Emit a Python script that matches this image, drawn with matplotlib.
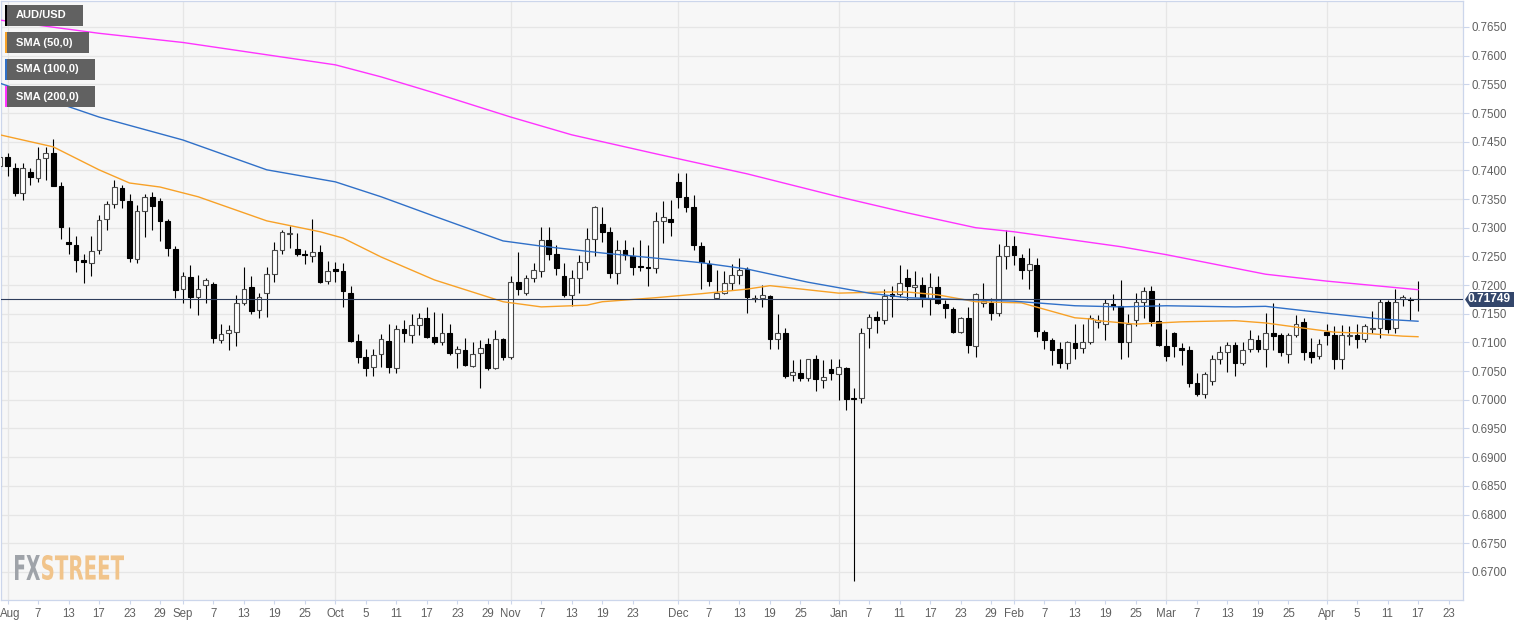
import matplotlib

matplotlib.use("Agg")
import matplotlib.pyplot as plt
import numpy as np
import pandas as pd
from matplotlib.font_manager import FontProperties
from matplotlib.patches import PathPatch, Polygon, Rectangle
from matplotlib.textpath import TextPath
from matplotlib.transforms import Affine2D, IdentityTransform, ScaledTranslation


# Osnovna podesavanja slike (pikseli, dpi=100).
FIG_W, FIG_H = 1534, 626
PLOT_RIGHT_PX = 1463
PLOT_TOP_PX = 1
PLOT_BOTTOM_PX = 600
Y_MIN, Y_MAX = 0.66510, 0.76953

FONT = "Liberation Sans"
BG_COLOR = "#f7f7f7"
GRID_COLOR = "#e6e6e6"
SPINE_COLOR = "#ccd6eb"
LABEL_COLOR = "#606060"
SMA50_COLOR = "#f7a127"
SMA100_COLOR = "#3070c8"
SMA200_COLOR = "#ff33ff"
PRICE_LINE_COLOR = "#2e3d5c"

START_DATE = "2018-07-31"

# Dnevne svece AUD/USD (31. jul 2018 - 17. apr 2019), ocitano sa grafika.
OPEN = [
    0.7407, 0.7424, 0.7404, 0.7360, 0.7398, 0.7386, 0.7421, 0.7431, 0.7372, 0.7276,
    0.7270, 0.7244, 0.7239, 0.7261, 0.7316, 0.7341, 0.7370, 0.7347, 0.7245, 0.7330,
    0.7353, 0.7346, 0.7311, 0.7263, 0.7193, 0.7214, 0.7180, 0.7201, 0.7202, 0.7104,
    0.7116, 0.7119, 0.7168, 0.7197, 0.7157, 0.7186, 0.7219, 0.7262, 0.7289, 0.7263,
    0.7253, 0.7251, 0.7258, 0.7208, 0.7228, 0.7225, 0.7187, 0.7103, 0.7074, 0.7057,
    0.7080, 0.7103, 0.7055, 0.7123, 0.7113, 0.7131, 0.7142, 0.7110, 0.7100, 0.7116,
    0.7081, 0.7087, 0.7059, 0.7081, 0.7097, 0.7055, 0.7106, 0.7074, 0.7205, 0.7187,
    0.7212, 0.7225, 0.7279, 0.7254, 0.7215, 0.7183, 0.7212, 0.7241, 0.7280, 0.7306,
    0.7292, 0.7221, 0.7261, 0.7251, 0.7233, 0.7231, 0.7229, 0.7312, 0.7316, 0.7379,
    0.7353, 0.7336, 0.7268, 0.7237, 0.7177, 0.7187, 0.7204, 0.7218, 0.7228, 0.7175,
    0.7177, 0.7181, 0.7106, 0.7117, 0.7043, 0.7046, 0.7038, 0.7071, 0.7035, 0.7053,
    0.7045, 0.7055, 0.7003, 0.7003, 0.7125, 0.7145, 0.7139, 0.7184, 0.7185, 0.7212,
    0.7197, 0.7200, 0.7175, 0.7196, 0.7167, 0.7159, 0.7119, 0.7143, 0.7094, 0.7168,
    0.7168, 0.7151, 0.7250, 0.7268, 0.7248, 0.7226, 0.7235, 0.7119, 0.7104, 0.7088,
    0.7065, 0.7099, 0.7090, 0.7100, 0.7135, 0.7133, 0.7167, 0.7164, 0.7100, 0.7139,
    0.7171, 0.7190, 0.7138, 0.7094, 0.7116, 0.7091, 0.7086, 0.7029, 0.7010, 0.7032,
    0.7071, 0.7083, 0.7095, 0.7064, 0.7088, 0.7104, 0.7088, 0.7117, 0.7113, 0.7080,
    0.7113, 0.7135, 0.7084, 0.7077, 0.7119, 0.7113, 0.7071, 0.7112, 0.7113, 0.7106,
    0.7124, 0.7125, 0.7171, 0.7126, 0.7176, 0.7176, 0.7175,
]
HIGH = [
    0.7441, 0.7431, 0.7412, 0.7412, 0.7405, 0.7440, 0.7440, 0.7454, 0.7380, 0.7301,
    0.7285, 0.7255, 0.7286, 0.7322, 0.7346, 0.7383, 0.7375, 0.7359, 0.7340, 0.7358,
    0.7363, 0.7351, 0.7315, 0.7268, 0.7223, 0.7235, 0.7218, 0.7212, 0.7206, 0.7133,
    0.7131, 0.7183, 0.7232, 0.7216, 0.7186, 0.7232, 0.7276, 0.7296, 0.7303, 0.7291,
    0.7261, 0.7316, 0.7270, 0.7242, 0.7241, 0.7238, 0.7198, 0.7115, 0.7089, 0.7088,
    0.7115, 0.7132, 0.7131, 0.7140, 0.7150, 0.7151, 0.7161, 0.7153, 0.7151, 0.7133,
    0.7093, 0.7107, 0.7100, 0.7104, 0.7107, 0.7122, 0.7107, 0.7215, 0.7258, 0.7218,
    0.7238, 0.7301, 0.7302, 0.7270, 0.7238, 0.7226, 0.7253, 0.7299, 0.7338, 0.7337,
    0.7302, 0.7279, 0.7279, 0.7266, 0.7278, 0.7270, 0.7328, 0.7346, 0.7348, 0.7395,
    0.7395, 0.7357, 0.7276, 0.7244, 0.7226, 0.7224, 0.7237, 0.7247, 0.7231, 0.7183,
    0.7200, 0.7183, 0.7150, 0.7125, 0.7070, 0.7071, 0.7072, 0.7079, 0.7070, 0.7071,
    0.7072, 0.7058, 0.7020, 0.7125, 0.7150, 0.7154, 0.7194, 0.7199, 0.7235, 0.7228,
    0.7225, 0.7214, 0.7221, 0.7215, 0.7174, 0.7162, 0.7145, 0.7162, 0.7186, 0.7204,
    0.7177, 0.7272, 0.7296, 0.7285, 0.7255, 0.7265, 0.7247, 0.7122, 0.7108, 0.7101,
    0.7103, 0.7133, 0.7133, 0.7148, 0.7148, 0.7175, 0.7184, 0.7209, 0.7150, 0.7186,
    0.7196, 0.7199, 0.7168, 0.7123, 0.7119, 0.7099, 0.7093, 0.7046, 0.7049, 0.7078,
    0.7093, 0.7100, 0.7100, 0.7100, 0.7121, 0.7113, 0.7151, 0.7168, 0.7117, 0.7117,
    0.7148, 0.7142, 0.7107, 0.7106, 0.7133, 0.7129, 0.7131, 0.7128, 0.7133, 0.7133,
    0.7154, 0.7176, 0.7174, 0.7194, 0.7183, 0.7180, 0.7208,
]
LOW = [
    0.7404, 0.7390, 0.7355, 0.7348, 0.7375, 0.7380, 0.7383, 0.7372, 0.7280, 0.7255,
    0.7223, 0.7203, 0.7216, 0.7254, 0.7296, 0.7334, 0.7334, 0.7240, 0.7238, 0.7284,
    0.7296, 0.7277, 0.7251, 0.7177, 0.7168, 0.7160, 0.7147, 0.7168, 0.7099, 0.7099,
    0.7087, 0.7094, 0.7165, 0.7149, 0.7142, 0.7145, 0.7206, 0.7254, 0.7264, 0.7251,
    0.7237, 0.7241, 0.7204, 0.7202, 0.7206, 0.7162, 0.7101, 0.7065, 0.7042, 0.7042,
    0.7058, 0.7046, 0.7047, 0.7101, 0.7099, 0.7113, 0.7107, 0.7097, 0.7096, 0.7078,
    0.7055, 0.7059, 0.7057, 0.7020, 0.7052, 0.7053, 0.7070, 0.7071, 0.7183, 0.7183,
    0.7206, 0.7214, 0.7244, 0.7218, 0.7180, 0.7164, 0.7187, 0.7226, 0.7250, 0.7276,
    0.7212, 0.7202, 0.7244, 0.7218, 0.7224, 0.7199, 0.7221, 0.7273, 0.7285, 0.7334,
    0.7328, 0.7261, 0.7194, 0.7199, 0.7175, 0.7185, 0.7192, 0.7202, 0.7151, 0.7171,
    0.7162, 0.7088, 0.7088, 0.7038, 0.7032, 0.7032, 0.7032, 0.7016, 0.7020, 0.7035,
    0.6999, 0.6982, 0.6684, 0.6994, 0.7090, 0.7117, 0.7132, 0.7145, 0.7180, 0.7174,
    0.7180, 0.7162, 0.7148, 0.7167, 0.7142, 0.7116, 0.7116, 0.7082, 0.7075, 0.7162,
    0.7139, 0.7146, 0.7228, 0.7235, 0.7210, 0.7194, 0.7110, 0.7088, 0.7061, 0.7055,
    0.7053, 0.7072, 0.7081, 0.7097, 0.7125, 0.7104, 0.7157, 0.7071, 0.7075, 0.7129,
    0.7142, 0.7129, 0.7093, 0.7068, 0.7075, 0.7061, 0.7023, 0.7006, 0.7003, 0.7026,
    0.7062, 0.7049, 0.7042, 0.7061, 0.7084, 0.7084, 0.7058, 0.7087, 0.7077, 0.7065,
    0.7110, 0.7070, 0.7064, 0.7072, 0.7096, 0.7053, 0.7053, 0.7096, 0.7090, 0.7100,
    0.7116, 0.7107, 0.7116, 0.7116, 0.7164, 0.7140, 0.7154,
]
CLOSE = [
    0.7424, 0.7407, 0.7361, 0.7405, 0.7388, 0.7420, 0.7431, 0.7373, 0.7302, 0.7271,
    0.7244, 0.7240, 0.7260, 0.7314, 0.7341, 0.7371, 0.7348, 0.7247, 0.7330, 0.7353,
    0.7338, 0.7312, 0.7264, 0.7192, 0.7215, 0.7180, 0.7193, 0.7209, 0.7107, 0.7114,
    0.7122, 0.7169, 0.7194, 0.7154, 0.7180, 0.7219, 0.7262, 0.7292, 0.7290, 0.7254,
    0.7252, 0.7257, 0.7206, 0.7225, 0.7225, 0.7189, 0.7103, 0.7075, 0.7055, 0.7079,
    0.7106, 0.7057, 0.7124, 0.7116, 0.7131, 0.7142, 0.7110, 0.7101, 0.7117, 0.7082,
    0.7088, 0.7061, 0.7080, 0.7090, 0.7055, 0.7106, 0.7074, 0.7206, 0.7194, 0.7212,
    0.7226, 0.7279, 0.7255, 0.7229, 0.7183, 0.7212, 0.7240, 0.7280, 0.7336, 0.7293,
    0.7221, 0.7261, 0.7253, 0.7231, 0.7231, 0.7230, 0.7311, 0.7318, 0.7310, 0.7354,
    0.7337, 0.7270, 0.7240, 0.7208, 0.7187, 0.7204, 0.7218, 0.7226, 0.7180, 0.7177,
    0.7182, 0.7106, 0.7117, 0.7042, 0.7048, 0.7038, 0.7071, 0.7036, 0.7039, 0.7046,
    0.7057, 0.7001, 0.7001, 0.7116, 0.7145, 0.7140, 0.7181, 0.7181, 0.7204, 0.7199,
    0.7201, 0.7177, 0.7197, 0.7169, 0.7160, 0.7119, 0.7142, 0.7095, 0.7184, 0.7172,
    0.7152, 0.7250, 0.7269, 0.7253, 0.7226, 0.7236, 0.7120, 0.7104, 0.7086, 0.7065,
    0.7100, 0.7090, 0.7100, 0.7142, 0.7139, 0.7168, 0.7164, 0.7101, 0.7132, 0.7171,
    0.7189, 0.7138, 0.7095, 0.7077, 0.7093, 0.7087, 0.7030, 0.7011, 0.7045, 0.7072,
    0.7084, 0.7095, 0.7064, 0.7086, 0.7106, 0.7088, 0.7116, 0.7112, 0.7083, 0.7113,
    0.7133, 0.7084, 0.7074, 0.7097, 0.7113, 0.7072, 0.7113, 0.7113, 0.7106, 0.7129,
    0.7125, 0.7171, 0.7123, 0.7171, 0.7179, 0.7174, 0.71749,
]
LAST_PRICE = 0.71749

# Pokretni proseci: indeks svece i ocitana vrednost linije.
SMA50_IDX = [0, 7, 13, 17, 21, 26, 35, 42, 45, 50, 57, 66, 71, 77, 79, 86, 92, 98,
             101, 110, 116, 119, 123, 128, 134, 141, 143, 144, 149, 155, 162, 166,
             171, 175, 179, 184, 186]
SMA50_VAL = [0.7462, 0.7441, 0.7401, 0.7378, 0.7371, 0.7354, 0.7312, 0.7293, 0.7282,
             0.7249, 0.7209, 0.7171, 0.7162, 0.7165, 0.7171, 0.7178, 0.7185, 0.7193,
             0.7199, 0.7186, 0.7188, 0.7188, 0.7183, 0.7171, 0.7169, 0.7143, 0.7141,
             0.7138, 0.7132, 0.7136, 0.7138, 0.7134, 0.7125, 0.7118, 0.7116, 0.7111,
             0.7110]
SMA100_IDX = [0, 13, 24, 35, 44, 50, 57, 66, 71, 79, 86, 92, 98, 106, 114, 119, 128,
              133, 141, 147, 153, 162, 166, 174, 181, 186]
SMA100_VAL = [0.7552, 0.7493, 0.7453, 0.7401, 0.7380, 0.7354, 0.7320, 0.7277, 0.7268,
              0.7256, 0.7247, 0.7239, 0.7228, 0.7205, 0.7186, 0.7178, 0.7174, 0.7172,
              0.7164, 0.7162, 0.7164, 0.7162, 0.7163, 0.7151, 0.7141, 0.7137]
SMA200_IDX = [0, 13, 24, 44, 50, 57, 67, 75, 86, 98, 110, 119, 128, 133, 147, 153,
              166, 174, 186]
SMA200_VAL = [0.7662, 0.7639, 0.7623, 0.7584, 0.7563, 0.7535, 0.7493, 0.7462, 0.7429,
              0.7394, 0.7354, 0.7326, 0.7300, 0.7293, 0.7267, 0.7253, 0.7219, 0.7207,
              0.7192]

# Oznake na x osi (datum -> tekst).
TICK_DATES = [
    "2018-08-01", "2018-08-07", "2018-08-13", "2018-08-17", "2018-08-23", "2018-08-29",
    "2018-09-03", "2018-09-07", "2018-09-13", "2018-09-19", "2018-09-25",
    "2018-10-01", "2018-10-05", "2018-10-11", "2018-10-17", "2018-10-23", "2018-10-29",
    "2018-11-01", "2018-11-07", "2018-11-13", "2018-11-19", "2018-11-23",
    "2018-12-03", "2018-12-07", "2018-12-13", "2018-12-19", "2018-12-25",
    "2019-01-01", "2019-01-07", "2019-01-11", "2019-01-17", "2019-01-23", "2019-01-29",
    "2019-02-01", "2019-02-07", "2019-02-13", "2019-02-19", "2019-02-25",
    "2019-03-01", "2019-03-07", "2019-03-13", "2019-03-19", "2019-03-25",
    "2019-04-01", "2019-04-05", "2019-04-11", "2019-04-17", "2019-04-23",
]
TICK_LABELS = [
    "Aug", "7", "13", "17", "23", "29",
    "Sep", "7", "13", "19", "25",
    "Oct", "5", "11", "17", "23", "29",
    "Nov", "7", "13", "19", "23",
    "Dec", "7", "13", "19", "25",
    "Jan", "7", "11", "17", "23", "29",
    "Feb", "7", "13", "19", "25",
    "Mar", "7", "13", "19", "25",
    "Apr", "5", "11", "17", "23",
]
MONTH_STARTS = ["2018-08-01", "2018-09-03", "2018-10-01", "2018-11-01", "2018-12-03",
                "2019-01-01", "2019-02-01", "2019-03-01", "2019-04-01"]

LEGEND_ITEMS = [
    ("AUD/USD", "black", 78),
    ("SMA (50,0)", SMA50_COLOR, 84),
    ("SMA (100,0)", SMA100_COLOR, 90),
    ("SMA (200,0)", SMA200_COLOR, 90),
]


def px(y_from_top):
    """Pretvara y koordinatu sa slike (od vrha) u display koordinatu."""
    return FIG_H - y_from_top


def date_positions(dates):
    """Vraca poziciju (indeks radnog dana) za svaki datum."""
    calendar = pd.bdate_range(START_DATE, "2019-04-30")
    return [calendar.get_loc(pd.Timestamp(d)) for d in dates]


def draw_candles(ax):
    o, h, l, c = (np.array(v) for v in (OPEN, HIGH, LOW, CLOSE))
    x = np.arange(len(c))
    up = c >= o
    bottom = np.minimum(o, c)
    height = np.maximum(np.abs(c - o), 0.00016)

    ax.vlines(x, l, h, color="black", linewidth=0.8, zorder=2)
    ax.bar(x[up], height[up], bottom=bottom[up], width=0.62, color="white",
           edgecolor="#4a4a4a", linewidth=0.8, zorder=3)
    ax.bar(x[~up], height[~up], bottom=bottom[~up], width=0.62, color="black",
           edgecolor="black", linewidth=0.8, zorder=3)


def draw_legend(fig):
    for k, (label, color, width) in enumerate(LEGEND_ITEMS):
        top = 5 + 27 * k
        fig.add_artist(Rectangle((5, px(top + 21)), width, 21, transform=IdentityTransform(),
                                 facecolor="#616161", edgecolor="none"))
        fig.add_artist(Rectangle((5, px(top + 21)), 2, 21, transform=IdentityTransform(),
                                 facecolor=color, edgecolor="none"))
        fig.text(16, px(top + 10.5), label, transform=IdentityTransform(), color="white",
                 fontsize=8, fontweight="bold", family=FONT, va="center", ha="left")


def draw_watermark(fig):
    prop = FontProperties(family="DejaVu Sans", weight="bold")
    parts = [("FX", "#9fa3a9", 15, 25), ("STREET", "#f1c48b", 42, 82)]
    for text, color, left, width in parts:
        path = TextPath((0, 0), text, size=100, prop=prop)
        bb = path.get_extents()
        tr = (Affine2D().translate(-bb.x0, -bb.y0)
              .scale(width / bb.width, 25 / bb.height).translate(left, px(580)))
        fig.add_artist(PathPatch(tr.transform_path(path), transform=IdentityTransform(),
                                 facecolor=color, edgecolor="none"))


def draw_price_label(fig, ax):
    y = ax.transData.transform((0, LAST_PRICE))[1]
    x0 = PLOT_RIGHT_PX + 2
    shape = [(x0, y), (x0 + 5, y + 7.5), (1514, y + 7.5), (1514, y - 7.5), (x0 + 5, y - 7.5)]
    fig.add_artist(Polygon(shape, closed=True, transform=IdentityTransform(),
                           facecolor="#33466b", edgecolor="none"))
    fig.text(1489.5, y, f"{LAST_PRICE:.5f}", transform=IdentityTransform(), color="white",
             fontsize=8.6, fontweight="bold", family=FONT, va="center", ha="center")


def main():
    fig = plt.figure(figsize=(FIG_W / 100, FIG_H / 100), dpi=100)
    fig.patch.set_facecolor("white")
    ax = fig.add_axes([0.5 / FIG_W, (FIG_H - PLOT_BOTTOM_PX) / FIG_H,
                       (PLOT_RIGHT_PX - 0.5) / FIG_W, (PLOT_BOTTOM_PX - PLOT_TOP_PX) / FIG_H])
    ax.set_facecolor(BG_COLOR)

    n = len(CLOSE)
    ax.set_xlim(0.08, 191.9)
    ax.set_ylim(Y_MIN, Y_MAX)

    # Mreza: horizontalno na svakih 0.005, vertikalno na pocetku meseca.
    ax.set_yticks(np.arange(0.6700, 0.76551, 0.0050))
    ax.yaxis.set_major_formatter(matplotlib.ticker.FormatStrFormatter("%.4f"))
    ax.grid(axis="y", color=GRID_COLOR, linewidth=0.9, zorder=0)
    for pos in date_positions(MONTH_STARTS):
        ax.axvline(pos, color=GRID_COLOR, linewidth=0.9, zorder=0)
    ax.set_axisbelow(True)

    draw_candles(ax)

    ax.plot(SMA50_IDX, SMA50_VAL, color=SMA50_COLOR, linewidth=1.0, zorder=4)
    ax.plot(SMA100_IDX, SMA100_VAL, color=SMA100_COLOR, linewidth=1.0, zorder=4)
    ax.plot(SMA200_IDX, SMA200_VAL, color=SMA200_COLOR, linewidth=1.0, zorder=4)
    ax.axhline(LAST_PRICE, color=PRICE_LINE_COLOR, linewidth=0.8, zorder=5)

    ax.yaxis.tick_right()
    ax.tick_params(axis="y", length=4, width=0.8, color=SPINE_COLOR, pad=2,
                   labelsize=8.3, labelcolor=LABEL_COLOR)
    ax.set_xticks(date_positions(TICK_DATES))
    ax.set_xticklabels(TICK_LABELS)
    ax.tick_params(axis="x", length=3, width=0.8, color=SPINE_COLOR, pad=3,
                   labelsize=8.3, labelcolor=LABEL_COLOR)
    for label in ax.get_xticklabels() + ax.get_yticklabels():
        label.set_family(FONT)
    first = ax.get_xticklabels()[0]
    first.set_transform(first.get_transform() + ScaledTranslation(3 / 100, 0, fig.dpi_scale_trans))

    for spine in ax.spines.values():
        spine.set_color(SPINE_COLOR)
        spine.set_linewidth(0.9)

    draw_legend(fig)
    draw_watermark(fig)
    draw_price_label(fig, ax)

    fig.savefig("out.png", dpi=100, facecolor=fig.get_facecolor())
    plt.close(fig)
    print(f"Sacuvano out.png ({n} sveca)")


if __name__ == "__main__":
    main()
